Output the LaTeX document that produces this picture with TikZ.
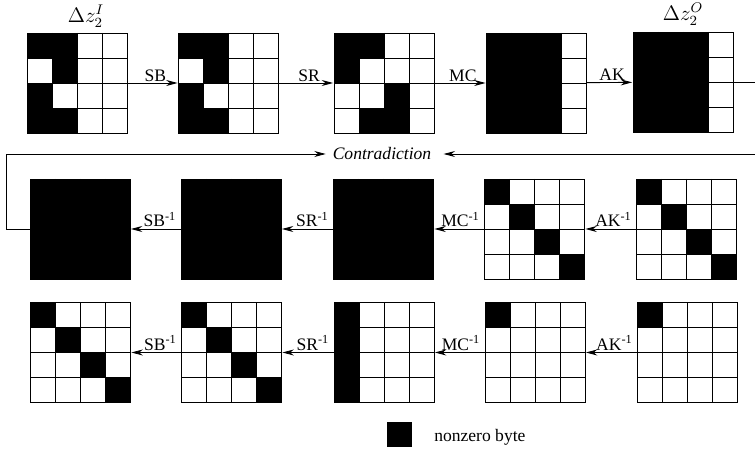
\documentclass[tikz,border=0pt]{standalone}
\usepackage{amsmath}
\usepackage{fontspec}
\setmainfont{Liberation Serif}
\usetikzlibrary{calc, positioning, arrows.meta}

% one 4x4 byte state: [node options]{name}{centre}{black cells col/row}
\newcommand{\bytestate}[4][]{%
  \node[statebox,#1] (#2) at #3 {};
  \foreach \k in {1,2,3}
    \draw[gridline] ($(#2.north west)+(\k*25,0)$) -- ++(0,100)
                    ($(#2.north west)+(0,\k*25)$) -- ++(100,0);
  \foreach \c/\r in {#4}
    \fill ($(#2.north west)+(\c*25,\r*25)$) rectangle ++(25,25);
}

\begin{document}
\begin{tikzpicture}[x=0.57pt,y=-0.57pt,>={Stealth[length=6.5pt,width=3.4pt]},
    statebox/.style={draw,line width=0.5pt,minimum size=57pt,inner sep=0pt,outer sep=0pt},
    gridline/.style={line width=0.5pt},
    arr/.style={->,shorten >=0.5pt,line width=0.5pt},
    lbl/.style={above,pos=0.55,inner sep=0.6pt},
    invlbl/.style={above left,pos=0.05,inner sep=1pt}]
    \useasboundingbox (0,0) rectangle (755,451);

    % forward round
    \bytestate{s11}{(77,83)}{0/0,1/0,1/1,0/2,0/3,1/3}
    \bytestate{s12}{(228.5,83)}{0/0,1/0,1/1,0/2,0/3,1/3}
    \bytestate{s13}{(384,83)}{0/0,1/0,0/1,2/2,1/3,2/3}
    \bytestate{s14}{(536.5,83)}{0/0,1/0,2/0,0/1,1/1,2/1,0/2,1/2,2/2,0/3,1/3,2/3}
    \bytestate{s15}{(683,82)}{0/0,1/0,2/0,0/1,1/1,2/1,0/2,1/2,2/2,0/3,1/3,2/3}
    \node[font=\large] (zin) at (86,16) {$\Delta z_2^I$};
    \node[font=\large] (zout) at (683,14) {$\Delta z_2^O$};

    \path[arr] (s11) edge node[lbl] {SB} (s12)
               (s12) edge node[lbl] {SR} (s13)
               (s13) edge node[lbl] {MC} (s14)
               (s14) edge node[lbl] {AK} (s15);

    % backward, first path
    \bytestate[fill=black]{s21}{(80,229)}{0/0}
    \bytestate[fill=black]{s22}{(231,229)}{0/0}
    \bytestate[fill=black]{s23}{(383.5,229)}{0/0}
    \bytestate{s24}{(534.5,229)}{0/0,1/1,2/2,3/3}
    \bytestate{s25}{(686.5,229)}{0/0,1/1,2/2,3/3}

    \path[arr] (s22) edge node[invlbl] {SB\textsuperscript{-1}} (s21)
               (s23) edge node[invlbl] {SR\textsuperscript{-1}} (s22)
               (s24) edge node[invlbl] {MC\textsuperscript{-1}} (s23)
               (s25) edge node[invlbl] {AK\textsuperscript{-1}} (s24);

    % backward, second path
    \bytestate{s31}{(80.5,352.5)}{0/0,1/1,2/2,3/3}
    \bytestate{s32}{(231.5,352.5)}{0/0,1/1,2/2,3/3}
    \bytestate{s33}{(384,352.5)}{0/0,0/1,0/2,0/3}
    \bytestate{s34}{(535,352.5)}{0/0}
    \bytestate{s35}{(687.5,352.5)}{0/0}

    \path[arr] (s32) edge node[invlbl] {SB\textsuperscript{-1}} (s31)
               (s33) edge node[invlbl] {SR\textsuperscript{-1}} (s32)
               (s34) edge node[invlbl] {MC\textsuperscript{-1}} (s33)
               (s35) edge node[invlbl] {AK\textsuperscript{-1}} (s34);

    % meeting point
    \node[font=\itshape] (contra) at (382,154) {Contradiction};
    \draw[arr] (s21.west) -- ++(-24,0) |- (contra);
    \draw[arr,shorten >=3.5pt] (s15.east) -- ++(25,0) |- (contra);

    % legend
    \node[fill=black,minimum size=14.25pt,inner sep=0pt] (key) at (399.5,434.5) {};
    \node[right=9pt of key,yshift=-1.5pt] (keytext) {nonzero byte};
\end{tikzpicture}
\end{document}
